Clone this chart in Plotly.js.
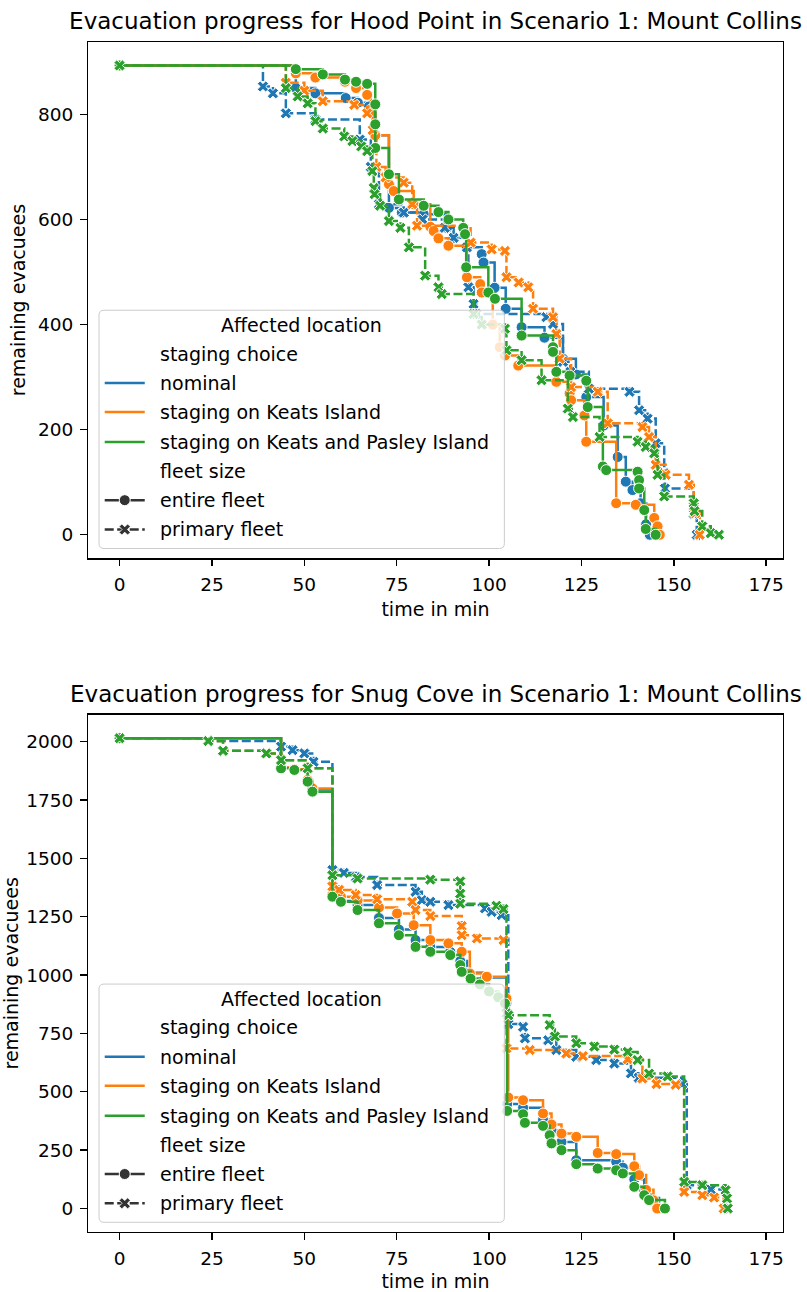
<!DOCTYPE html>
<html>
<head>
<meta charset="utf-8">
<script src="https://cdn.plot.ly/plotly-3.0.1.min.js"></script>
<style>html,body{margin:0;padding:0;background:#fff;}#chart{width:807px;height:1292px;}</style>
</head>
<body>
<div id="chart"></div>
<script>
// ---------- labels ----------
const titleTop = "Evacuation progress for Hood Point in Scenario 1: Mount Collins";
const titleBottom = "Evacuation progress for Snug Cove in Scenario 1: Mount Collins";
const xLabel = "time in min";
const yLabel = "remaining evacuees";
const stagingLabels = ["nominal", "staging on Keats Island", "staging on Keats and Pasley Island"];
const fleetLabels = ["entire fleet", "primary fleet"];
const xTicks = [0, 25, 50, 75, 100, 125, 150, 175];
const yTicksTop = [0, 200, 400, 600, 800];
const yTicksBottom = [0, 250, 500, 750, 1000, 1250, 1500, 1750, 2000];

// ---------- Hood Point data (time in min, remaining evacuees) ----------
const hpNominalEntireT = [0, 47.7, 53, 61.2, 64.5, 67.5, 69.2, 72.9, 76.4, 82.3, 88.6, 90.4, 94, 98, 98.5, 101.5, 104.5, 108.8, 115, 120, 123.5, 126.3, 131, 134.8, 137, 138.8, 141, 142.5, 143.5];
const hpNominalEntireV = [893, 850, 840, 831, 822, 815, 760, 622, 613, 610, 584, 565, 547, 534, 518, 470, 430, 395, 375, 335, 305, 262, 208, 148, 101, 85, 60, 20, 0];
const hpNominalPrimaryT = [0, 38.8, 41.5, 45, 53, 65, 68, 70.2, 76.9, 82, 88, 90.4, 94, 94.4, 95.8, 96.5, 115.5, 117.3, 120, 122, 127, 138, 140.6, 142.9, 145.1, 147.4, 147.6, 155.4, 156.2];
const hpNominalPrimaryV = [893, 853, 840, 802, 790, 752, 700, 629, 613, 600, 584, 565, 547, 471, 439, 420, 414, 401, 329, 310, 278, 272, 237, 221, 174, 117, 88, 40, 0];
const hpKeatsEntireT = [0, 47.7, 53, 61, 64, 67, 68, 69.2, 72.9, 74.2, 79.6, 84.1, 85, 86.3, 89, 94, 97.6, 98, 101, 102.9, 104.3, 107.9, 118.2, 121.8, 122.2, 125.8, 126.3, 134.4, 139.7, 144.7, 145.6, 146.2];
const hpKeatsEntireV = [893, 878, 870, 862, 850, 837, 809, 760, 667, 654, 629, 586, 578, 564, 550, 490, 477, 461, 400, 357, 341, 322, 291, 269, 256, 227, 177, 60, 57, 32, 16, 0];
const hpKeatsPrimaryT = [0, 45, 50, 55, 63.5, 67, 68.5, 69.5, 72, 76.9, 79.2, 80.5, 95, 100.7, 104.3, 104.7, 108, 110.6, 111.9, 117.3, 118.2, 119.1, 122.2, 129.4, 132.1, 141.5, 143.3, 145.1, 147.8, 154.1, 155.4, 155.8, 157];
const hpKeatsPrimaryV = [893, 860, 845, 825, 818, 802, 770, 700, 680, 670, 629, 588, 556, 543, 540, 490, 480, 471, 430, 414, 382, 335, 281, 272, 212, 205, 186, 133, 114, 95, 54, 41, 0];
const hpKeatsPasleyEntireT = [0, 47.7, 55, 61, 64, 67, 69.2, 69.2, 69.2, 72.9, 75.6, 82.3, 86.3, 89, 93, 93.5, 93.8, 99.8, 101.6, 108.8, 117.3, 117.3, 118.2, 121.8, 126.3, 126.7, 130.8, 131.7, 140.2, 140.6, 140.6, 142, 142.4, 145.1];
const hpKeatsPasleyEntireV = [893, 886, 876, 866, 862, 858, 819, 781, 736, 686, 638, 626, 614, 600, 584, 572, 509, 461, 449, 379, 357, 348, 310, 303, 293, 243, 130, 123, 120, 104, 88, 47, 11, 0];
const hpKeatsPasleyPrimaryT = [0, 45, 48.2, 50.9, 53, 55, 60.8, 63, 65.4, 67, 68.4, 68.8, 69, 70.5, 72.9, 76, 78.3, 82.7, 86.3, 87.2, 95.8, 98, 104.3, 104.7, 108.8, 114.2, 121.3, 122.7, 129.9, 140.2, 142.4, 144.7, 145.6, 147.4, 155.4, 155.6, 157.7, 160, 162.2];
const hpKeatsPasleyPrimaryV = [893, 850, 834, 821, 787, 773, 758, 749, 739, 730, 692, 660, 648, 626, 597, 584, 547, 493, 471, 458, 420, 400, 392, 351, 332, 294, 240, 224, 186, 177, 167, 155, 114, 73, 60, 45, 16, 3, 0];

// ---------- Snug Cove data ----------
const scNominalEntireT = [0, 43.7, 47.3, 50.9, 52.2, 57.6, 59.9, 64.4, 70.2, 75.6, 80.1, 84.1, 89.5, 92.2, 94, 99, 104.7, 104.9, 109.2, 114.6, 116.9, 119.6, 123.6, 134.4, 136.2, 139.3, 142, 143.3, 146];
const scNominalEntireV = [2015, 1888, 1880, 1833, 1795, 1336, 1318, 1300, 1245, 1195, 1150, 1120, 1100, 1060, 1010, 990, 880, 448, 432, 380, 335, 285, 207, 200, 175, 125, 75, 45, 0];
const scNominalPrimaryT = [0, 24, 43.7, 46.8, 50, 52.5, 57.6, 60.7, 64, 69.7, 80.1, 81.8, 84.1, 89, 98.9, 100.7, 103.4, 105.2, 109.2, 109.7, 116, 118.2, 123.6, 129, 133.9, 138.4, 140.5, 152.3, 153.5, 160, 164.4];
const scNominalPrimaryV = [2015, 2003, 1979, 1964, 1950, 1914, 1450, 1438, 1420, 1386, 1357, 1321, 1314, 1300, 1286, 1271, 1257, 790, 778, 729, 721, 679, 650, 636, 621, 579, 560, 533, 100, 81, 0];
const scKeatsEntireT = [0, 43.7, 47.3, 50.9, 52.2, 57.6, 59.9, 64.4, 70.2, 75.1, 79.6, 84.1, 89, 92.6, 94.8, 99.4, 104.7, 105.2, 109.2, 114.6, 116.9, 119.6, 123.6, 129.4, 134.4, 139.3, 140.6, 142.5, 144.5, 145.5];
const scKeatsEntireV = [2015, 1890, 1882, 1836, 1800, 1345, 1336, 1320, 1290, 1264, 1214, 1150, 1136, 1100, 1007, 993, 900, 476, 464, 407, 360, 321, 307, 238, 233, 181, 143, 80, 35, 0];
const scKeatsPrimaryT = [0, 24, 28, 39.7, 43.7, 50.9, 57.6, 59.4, 63.9, 69.7, 79.2, 80.1, 84.1, 92.6, 92.6, 96.7, 103.9, 104.7, 111, 120.9, 125.4, 137.5, 141.5, 145.3, 150.5, 152.8, 157.7, 160.9, 163.5];
const scKeatsPrimaryV = [2015, 2003, 1961, 1950, 1921, 1886, 1380, 1365, 1343, 1325, 1314, 1279, 1253, 1210, 1171, 1157, 1150, 686, 679, 664, 653, 639, 557, 533, 530, 71, 57, 47, 0];
const scKeatsPasleyEntireT = [0, 43.7, 47.3, 50.9, 52.2, 57.6, 59.9, 64.4, 70.2, 75.6, 80.1, 84.1, 89.5, 92.2, 92.6, 95, 97.5, 100, 102.5, 104.3, 104.9, 109.2, 109.7, 114.6, 116.4, 116.9, 119.6, 123.6, 129.4, 134.4, 136.2, 139.3, 142, 143.3, 147.6];
const scKeatsPasleyEntireV = [2015, 1886, 1879, 1829, 1786, 1336, 1314, 1279, 1222, 1171, 1121, 1100, 1086, 1043, 1014, 985, 960, 930, 905, 879, 418, 404, 367, 354, 314, 279, 250, 190, 171, 164, 150, 93, 57, 36, 0];
const scKeatsPasleyPrimaryT = [0, 24, 28, 39.7, 43.7, 50.9, 57.6, 64.4, 84.1, 92.2, 92.2, 92.2, 102, 103.9, 104.7, 105.2, 116.4, 117.8, 123.6, 128.5, 133.9, 137.5, 140.2, 143.3, 148.3, 152.8, 157.7, 164, 164.4, 164.6];
const scKeatsPasleyPrimaryV = [2015, 2003, 1961, 1950, 1921, 1886, 1428, 1414, 1409, 1402, 1349, 1306, 1297, 1283, 836, 828, 786, 737, 708, 694, 681, 671, 636, 578, 566, 114, 100, 78, 43, 0];

// ---------- styling ----------
const colorNominal = '#1f77b4', colorKeats = '#ff7f0e', colorKP = '#2ca02c';
const FONT = 'DejaVu Sans';
const W = 807, H = 1292;
const ML = 88.3, MR = 24.3, MT = 41.7, MB = 60;
const PW = W - ML - MR, PH = H - MT - MB;
const pxX = x => (x - ML) / PW;           // pixel -> paper x
const pxY = y => (H - MB - y) / PH;       // pixel -> paper y

function series(t, v, color, primary, xa, ya) {
  return {
    type: 'scatter', mode: 'lines+markers', x: t, y: v, xaxis: xa, yaxis: ya,
    line: {shape: 'hv', color: color, width: 2.5, dash: primary ? '9px,3.5px' : 'solid'},
    marker: {symbol: primary ? 'x' : 'circle', size: primary ? 10 : 11, color: color,
             line: {color: '#ffffff', width: 1}},
    showlegend: false, hoverinfo: 'skip'
  };
}

const traces = [
  series(hpNominalEntireT, hpNominalEntireV, colorNominal, false, 'x', 'y'),
  series(hpNominalPrimaryT, hpNominalPrimaryV, colorNominal, true, 'x', 'y'),
  series(hpKeatsEntireT, hpKeatsEntireV, colorKeats, false, 'x', 'y'),
  series(hpKeatsPrimaryT, hpKeatsPrimaryV, colorKeats, true, 'x', 'y'),
  series(hpKeatsPasleyEntireT, hpKeatsPasleyEntireV, colorKP, false, 'x', 'y'),
  series(hpKeatsPasleyPrimaryT, hpKeatsPasleyPrimaryV, colorKP, true, 'x', 'y'),
  series(scNominalEntireT, scNominalEntireV, colorNominal, false, 'x2', 'y2'),
  series(scNominalPrimaryT, scNominalPrimaryV, colorNominal, true, 'x2', 'y2'),
  series(scKeatsEntireT, scKeatsEntireV, colorKeats, false, 'x2', 'y2'),
  series(scKeatsPrimaryT, scKeatsPrimaryV, colorKeats, true, 'x2', 'y2'),
  series(scKeatsPasleyEntireT, scKeatsPasleyEntireV, colorKP, false, 'x2', 'y2'),
  series(scKeatsPasleyPrimaryT, scKeatsPasleyPrimaryV, colorKP, true, 'x2', 'y2')
];

// ---------- manual matplotlib-style legend ----------
const shapes = [], annotations = [];
function legendBox(topPx) {
  const L = 99.3, R = 504.3, T = topPx, B = topPx + 238.3, r = 5;
  const P = (x, y) => pxX(x).toFixed(5) + ',' + pxY(y).toFixed(5);
  const path = 'M' + P(L + r, T) + ' L' + P(R - r, T) + ' Q' + P(R, T) + ' ' + P(R, T + r) +
    ' L' + P(R, B - r) + ' Q' + P(R, B) + ' ' + P(R - r, B) + ' L' + P(L + r, B) +
    ' Q' + P(L, B) + ' ' + P(L, B - r) + ' L' + P(L, T + r) + ' Q' + P(L, T) + ' ' + P(L + r, T) + ' Z';
  shapes.push({type: 'path', xref: 'paper', yref: 'paper', path: path, layer: 'above',
    fillcolor: 'rgba(255,255,255,0.8)', line: {color: '#cccccc', width: 1}});
  const rows = [15, 43.3, 72.7, 101.7, 131.7, 160.7, 190, 219.3].map(d => topPx + d);
  const txt = (text, x, y, anchor) => annotations.push({text: text, xref: 'paper', yref: 'paper',
    x: pxX(x), y: pxY(y), xanchor: anchor, yanchor: 'middle', showarrow: false,
    font: {family: FONT, size: 19, color: '#000'}});
  txt('Affected location', (L + R) / 2, rows[0], 'center');
  txt('staging choice', 158, rows[1], 'left');
  const cols = [colorNominal, colorKeats, colorKP];
  for (let i = 0; i < 3; i++) {
    shapes.push({type: 'line', xref: 'paper', yref: 'paper', layer: 'above',
      x0: pxX(105), x1: pxX(145), y0: pxY(rows[2 + i]), y1: pxY(rows[2 + i]),
      line: {color: cols[i], width: 2.5}});
    txt(stagingLabels[i], 158, rows[2 + i], 'left');
  }
  txt('fleet size', 158, rows[5], 'left');
  // entire fleet handle
  shapes.push({type: 'line', xref: 'paper', yref: 'paper', layer: 'above',
    x0: pxX(105), x1: pxX(145), y0: pxY(rows[6]), y1: pxY(rows[6]),
    line: {color: '#333333', width: 2.5}});
  shapes.push({type: 'circle', xref: 'paper', yref: 'paper', layer: 'above',
    xsizemode: 'pixel', ysizemode: 'pixel', xanchor: pxX(125), yanchor: pxY(rows[6]),
    x0: -5.5, x1: 5.5, y0: -5.5, y1: 5.5, fillcolor: '#333333', line: {color: '#ffffff', width: 1}});
  txt(fleetLabels[0], 158, rows[6], 'left');
  // primary fleet handle
  shapes.push({type: 'line', xref: 'paper', yref: 'paper', layer: 'above',
    x0: pxX(105), x1: pxX(145), y0: pxY(rows[7]), y1: pxY(rows[7]),
    line: {color: '#333333', width: 2.5, dash: '9px,3.5px'}});
  const Ls = 6, ws = 1.9, s2 = Math.SQRT2;
  const plus = [[-ws, Ls], [ws, Ls], [ws, ws], [Ls, ws], [Ls, -ws], [ws, -ws], [ws, -Ls], [-ws, -Ls], [-ws, -ws], [-Ls, -ws], [-Ls, ws], [-ws, ws]];
  const xp = 'M' + plus.map(p => ((p[0] - p[1]) / s2).toFixed(2) + ',' + ((p[0] + p[1]) / s2).toFixed(2)).join(' L') + ' Z';
  shapes.push({type: 'path', xref: 'paper', yref: 'paper', layer: 'above',
    xsizemode: 'pixel', ysizemode: 'pixel', xanchor: pxX(125), yanchor: pxY(rows[7]),
    path: xp, fillcolor: '#333333', line: {color: '#ffffff', width: 0.8}});
  txt(fleetLabels[1], 158, rows[7], 'left');
}
legendBox(310);
legendBox(984);

annotations.push({text: titleBottom, xref: 'paper', yref: 'paper', x: 0.5, y: pxY(694),
  xanchor: 'center', yanchor: 'middle', showarrow: false, font: {family: FONT, size: 23, color: '#000'}});

const axisCommon = {
  showline: true, mirror: true, linecolor: '#000', linewidth: 1.4,
  ticks: 'outside', ticklen: 6.5, tickwidth: 1.4, tickcolor: '#000',
  showgrid: false, zeroline: false,
  tickfont: {family: FONT, size: 18.5, color: '#000'}, ticklabelstandoff: 3
};
const xAxisBase = Object.assign({}, axisCommon, {range: [-8.55, 179.55], tickmode: 'array', tickvals: xTicks,
  title: {text: xLabel, font: {family: FONT, size: 19, color: '#000'}, standoff: 8}});

const layout = {
  width: W, height: H, paper_bgcolor: '#fff', plot_bgcolor: '#fff',
  margin: {l: ML, r: MR, t: MT, b: MB},
  font: {family: FONT, color: '#000'},
  title: {text: titleTop, x: 0.5, xref: 'paper', y: 1 - 21 / H, yref: 'container', yanchor: 'middle',
          font: {family: FONT, size: 23, color: '#000'}},
  xaxis: Object.assign({}, xAxisBase, {domain: [0, 1], anchor: 'y'}),
  yaxis: Object.assign({}, axisCommon, {domain: [0.5662, 1], anchor: 'x', range: [-44.65, 937.65],
    tickmode: 'array', tickvals: yTicksTop,
    title: {text: yLabel, font: {family: FONT, size: 19, color: '#000'}, standoff: 7}}),
  xaxis2: Object.assign({}, xAxisBase, {domain: [0, 1], anchor: 'y2'}),
  yaxis2: Object.assign({}, axisCommon, {domain: [0, 0.4347], anchor: 'x2', range: [-100.75, 2115.75],
    tickmode: 'array', tickvals: yTicksBottom,
    title: {text: yLabel, font: {family: FONT, size: 19, color: '#000'}, standoff: 7}}),
  shapes: shapes, annotations: annotations, showlegend: false
};

Plotly.newPlot('chart', traces, layout, {displayModeBar: false, staticPlot: true});
</script>
</body>
</html>
